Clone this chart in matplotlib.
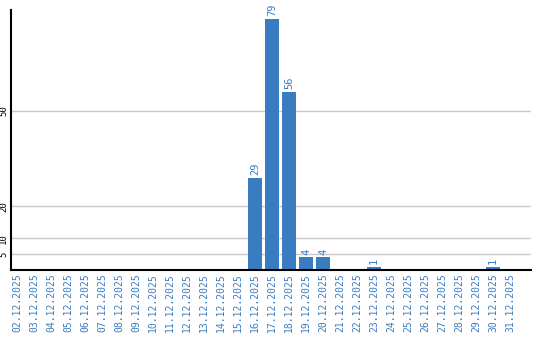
import matplotlib
matplotlib.use("Agg")
import matplotlib.pyplot as plt

# data
dates = [f"{d:02d}.12.2025" for d in range(2, 32)]
counts = [0] * 14 + [29, 79, 56, 4, 4, 0, 0, 1, 0, 0, 0, 0, 0, 0, 1, 0]
y_ticks = [5, 10, 20, 50]

bar_color = "#3a7cc1"
label_color = "#3a7cc1"

fig = plt.figure(figsize=(5.4, 3.4), dpi=100)
ax = fig.add_axes([11 / 540, 1 - 270 / 340, 520 / 540, 260 / 340])

x = list(range(len(dates)))
ax.bar(x, counts, width=0.82, color=bar_color, zorder=3)

for xi, v in zip(x, counts):
    if v > 0:
        ax.text(xi, v + 0.8, str(v), rotation=90, ha="center", va="bottom",
                color=label_color, fontsize=7.5, family="DejaVu Sans Mono")

ax.set_xlim(-0.38, 30.24)
ax.set_ylim(0, 81.8)

ax.set_yticks(y_ticks)
ax.set_yticklabels([str(t) for t in y_ticks], rotation=90, va="center",
                   fontsize=6.5, family="DejaVu Sans Mono")
ax.grid(axis="y", color="#c8c8c8", linewidth=1, zorder=0)

ax.set_xticks(x)
ax.set_xticklabels(dates, rotation=90, fontsize=7, color=label_color,
                   family="DejaVu Sans Mono", va="top")
ax.tick_params(axis="both", length=0, pad=2)

for side in ["top", "right"]:
    ax.spines[side].set_visible(False)
for side in ["left", "bottom"]:
    ax.spines[side].set_linewidth(1.5)
    ax.spines[side].set_color("black")
    ax.spines[side].set_zorder(4)

fig.savefig("out.png", dpi=100)
